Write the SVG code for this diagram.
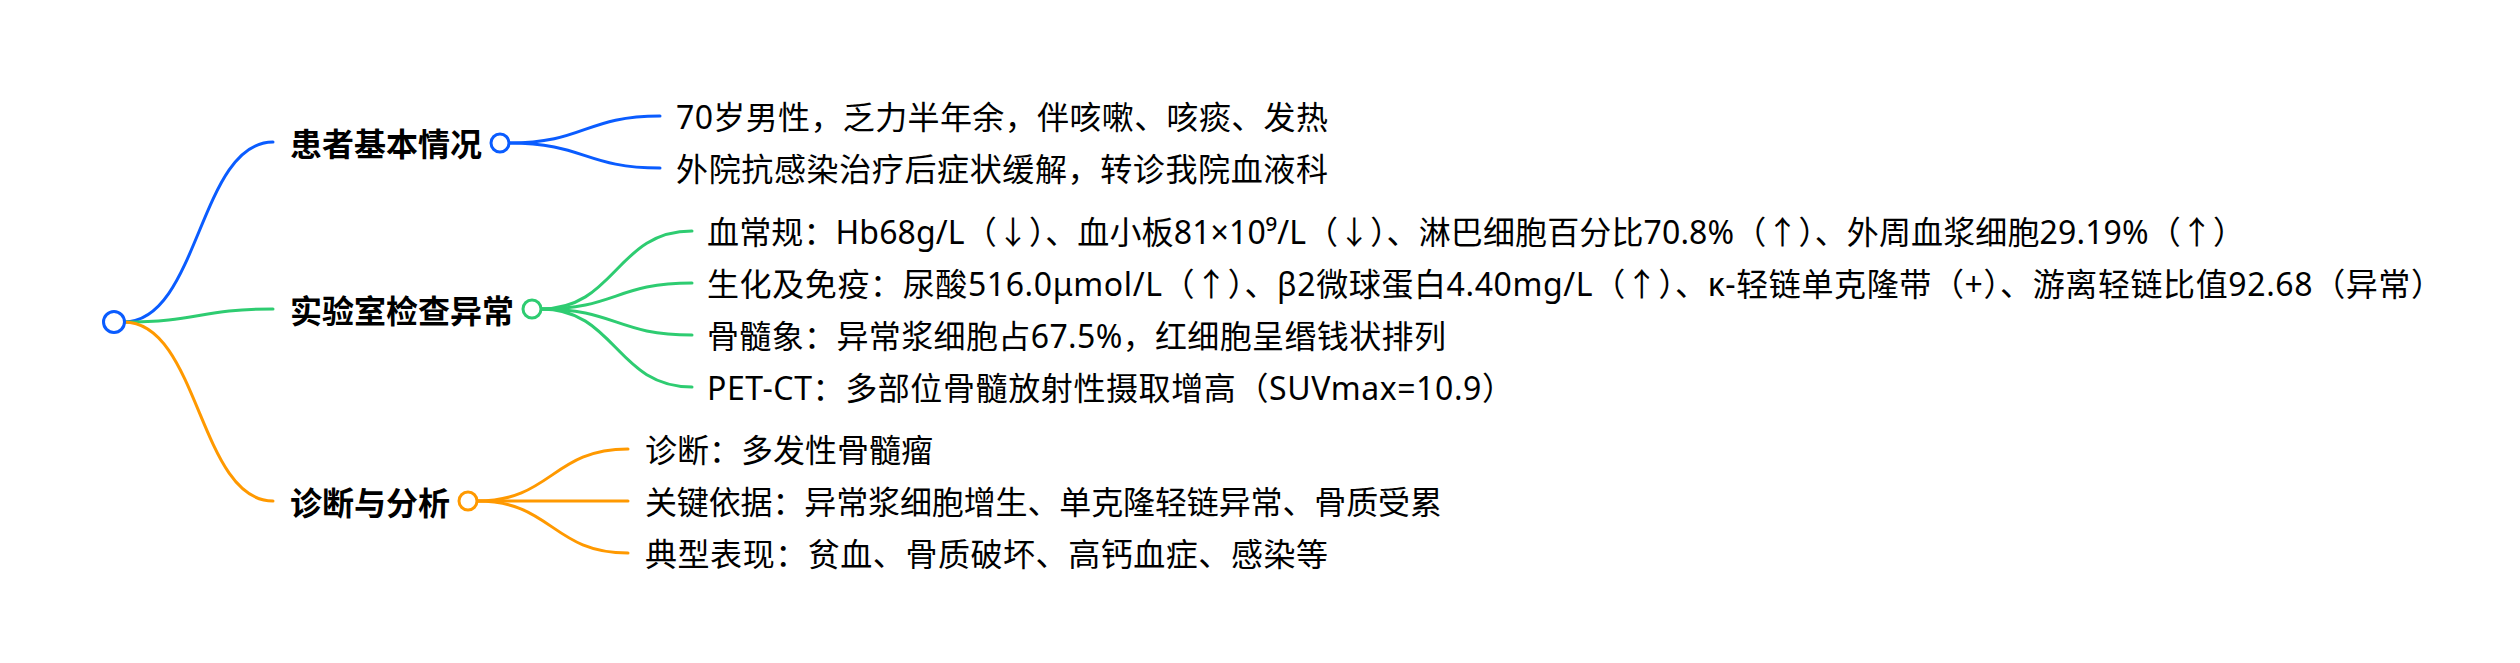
<svg xmlns="http://www.w3.org/2000/svg" width="2520" height="663" viewBox="0 0 2520 663">
<style>
.bg{fill:#ffffff}
.lnk{fill:none;stroke-width:3;stroke-linecap:round}
.blue{stroke:#0a5cff}
.green{stroke:#2ecc71}
.orange{stroke:#ff9900}
.dot{fill:#ffffff;stroke-width:3}
.lbl{font-family:"Noto Sans CJK SC","Noto Sans",sans-serif;font-size:32px;font-weight:700;fill:#000000;dominant-baseline:central}
.txt{font-family:"Noto Sans","Noto Sans CJK SC",sans-serif;font-size:32px;fill:#000000;dominant-baseline:central}
</style>
<rect class="bg" x="0" y="0" width="2520" height="663"/>
<g id="connectors">
<path class="lnk blue" d="M124,322 C199,322 199,142 273,142"/>
<path class="lnk green" d="M124,322 C199,322 199,309 273,309"/>
<path class="lnk orange" d="M124,322 C199,322 199,501 273,501"/>
<path class="lnk blue" d="M509,143 C585,143 585,116 660,116"/>
<path class="lnk blue" d="M509,143 C585,143 585,168 660,168"/>
<path class="lnk green" d="M541,309 C616,309 616,231 692,231"/>
<path class="lnk green" d="M541,309 C616,309 616,283 692,283"/>
<path class="lnk green" d="M541,309 C616,309 616,335 692,335"/>
<path class="lnk green" d="M541,309 C616,309 616,387 692,387"/>
<path class="lnk orange" d="M477,501 C552,501 552,449 628,449"/>
<path class="lnk orange" d="M477,501 C552,501 552,501 628,501"/>
<path class="lnk orange" d="M477,501 C552,501 552,553 628,553"/>
</g>
<g id="root">
<circle class="dot blue" cx="114" cy="322" r="10.5"/>
</g>
<g id="n-basic">
<text class="lbl" x="290" y="142">患者基本情况</text>
<circle class="dot blue" cx="500" cy="143" r="9"/>
</g>
<g id="n-basic-1"><text class="txt" x="676" y="116" textLength="652" lengthAdjust="spacing">70岁男性，乏力半年余，伴咳嗽、咳痰、发热</text></g>
<g id="n-basic-2"><text class="txt" x="676" y="168" textLength="652" lengthAdjust="spacing">外院抗感染治疗后症状缓解，转诊我院血液科</text></g>
<g id="n-lab">
<text class="lbl" x="290" y="309">实验室检查异常</text>
<circle class="dot green" cx="532" cy="309" r="9"/>
</g>
<g id="n-lab-1"><text class="txt" x="707" y="231" textLength="1538" lengthAdjust="spacing">血常规：Hb68g/L（↓）、血小板81×10⁹/L（↓）、淋巴细胞百分比70.8%（↑）、外周血浆细胞29.19%（↑）</text></g>
<g id="n-lab-2"><text class="txt" x="707" y="283" textLength="1736" lengthAdjust="spacing">生化及免疫：尿酸516.0μmol/L（↑）、β2微球蛋白4.40mg/L（↑）、κ-轻链单克隆带（+）、游离轻链比值92.68（异常）</text></g>
<g id="n-lab-3"><text class="txt" x="707" y="335" textLength="739" lengthAdjust="spacing">骨髓象：异常浆细胞占67.5%，红细胞呈缗钱状排列</text></g>
<g id="n-lab-4"><text class="txt" x="707" y="387" textLength="807" lengthAdjust="spacing">PET-CT：多部位骨髓放射性摄取增高（SUVmax=10.9）</text></g>
<g id="n-diag">
<text class="lbl" x="290" y="501">诊断与分析</text>
<circle class="dot orange" cx="468" cy="501" r="9"/>
</g>
<g id="n-diag-1"><text class="txt" x="645" y="449" textLength="288" lengthAdjust="spacing">诊断：多发性骨髓瘤</text></g>
<g id="n-diag-2"><text class="txt" x="645" y="501" textLength="797" lengthAdjust="spacing">关键依据：异常浆细胞增生、单克隆轻链异常、骨质受累</text></g>
<g id="n-diag-3"><text class="txt" x="645" y="553" textLength="683" lengthAdjust="spacing">典型表现：贫血、骨质破坏、高钙血症、感染等</text></g>
</svg>
